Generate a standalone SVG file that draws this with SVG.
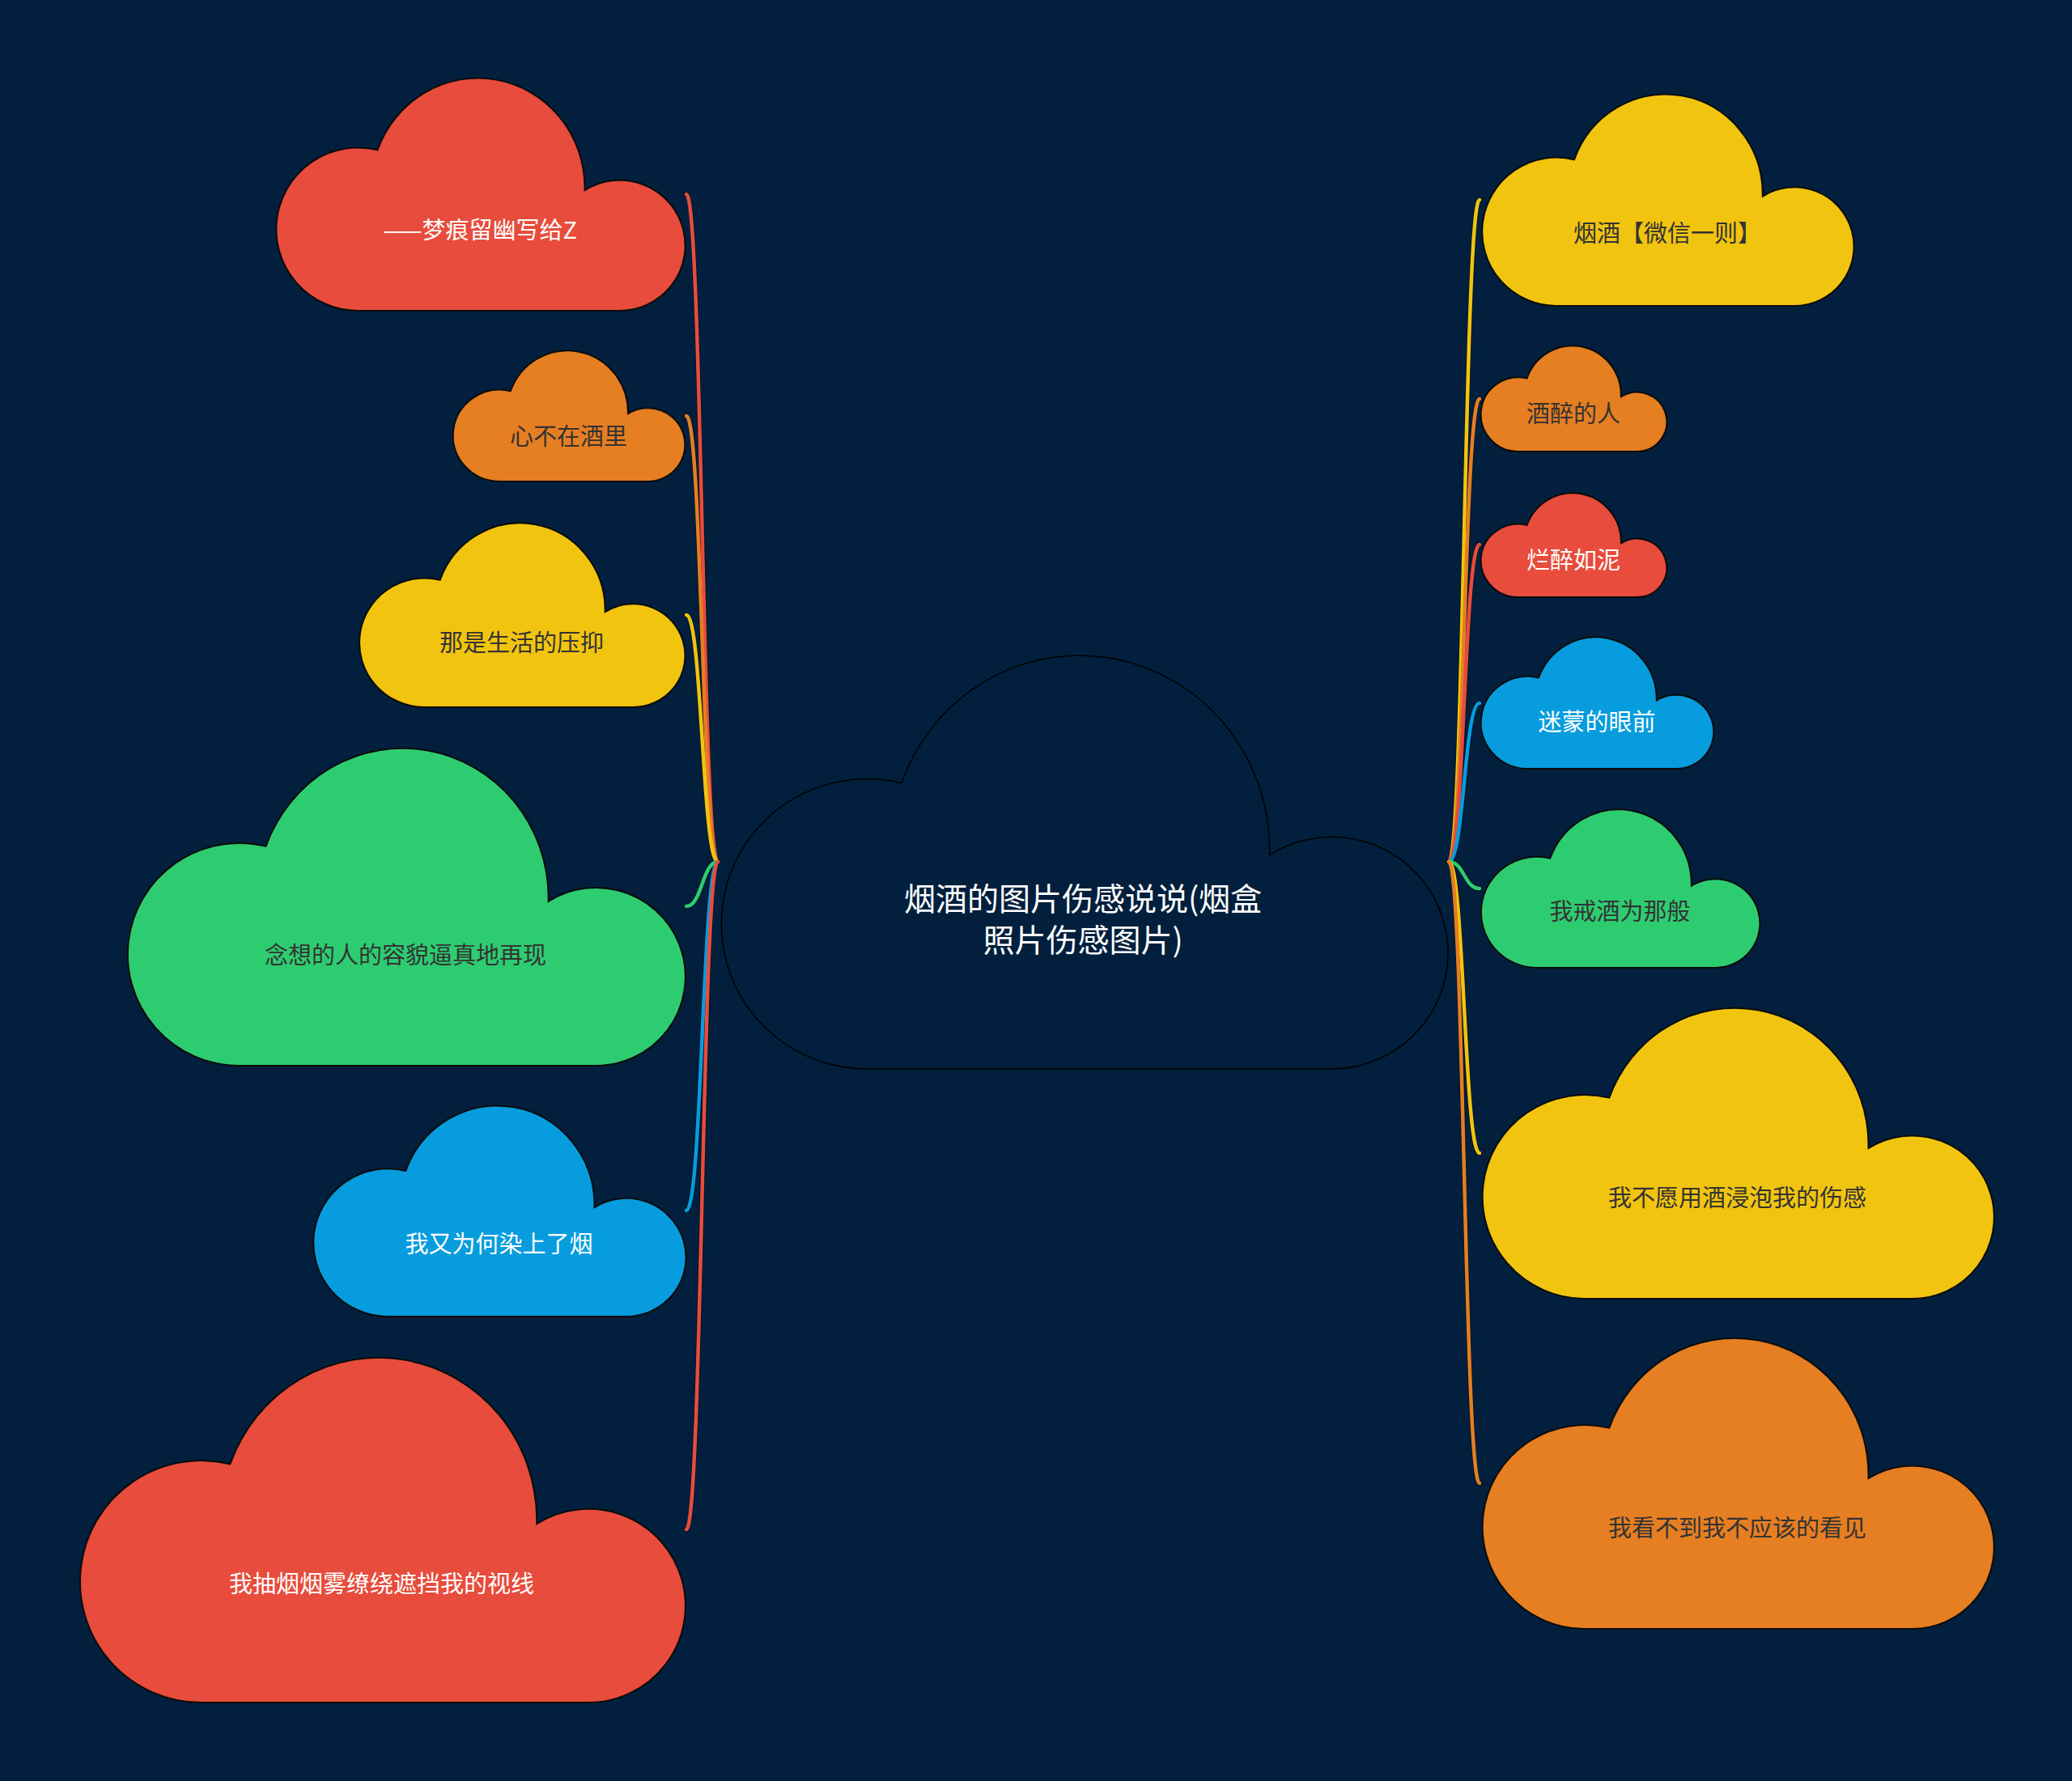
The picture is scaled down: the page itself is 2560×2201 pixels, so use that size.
<svg xmlns="http://www.w3.org/2000/svg" xmlns:xlink="http://www.w3.org/1999/xlink" width="2560" height="2201" viewBox="0 0 2560 2201">
<style>
.bg{fill:#02203d}
.cl{stroke:#0b0b0b;stroke-width:2}
.red{fill:#e74c3c}
.orange{fill:#e67e22}
.yellow{fill:#f1c40f}
.green{fill:#2ecc71}
.blue{fill:#079cde}
.root{fill:#02203d;stroke:#000;stroke-width:1.5}
text{font-family:"Noto Sans CJK SC","Noto Sans",sans-serif;font-size:29px;text-anchor:middle;dominant-baseline:central}
.dk{fill:#333333}
.wt{fill:#ffffff}
.rt{font-size:39px;fill:#ffffff}
.sh{fill:none;stroke:#000;stroke-opacity:0.35;stroke-width:6.5;stroke-linecap:round}
.ln{fill:none;stroke-width:4.5;stroke-linecap:round}
</style>
<defs>
<path id="cloud" vector-effect="non-scaling-stroke" d="M20,100 A20,35 0 1 1 25,31 A26.1,47 0 0 1 75.6,47 L75.6,48.3 A16,28 0 1 1 84,100 Z"/>
</defs>
<rect class="bg" x="0" y="0" width="2560" height="2201"/>
<g id="connectors">
<g id="shadows">
<path class="sh" d="M887,1065 C867.5,1065 867.5,240 848,240"/>
<path class="sh" d="M887,1065 C867.5,1065 867.5,514 848,514"/>
<path class="sh" d="M887,1065 C867.5,1065 867.5,760 848,760"/>
<path class="sh" d="M887,1065 C867.5,1065 867.5,1120 848,1120"/>
<path class="sh" d="M887,1065 C867.5,1065 867.5,1496 848,1496"/>
<path class="sh" d="M887,1065 C867.5,1065 867.5,1890 848,1890"/>
<path class="sh" d="M1790,1065 C1809,1065 1809,247 1828,247"/>
<path class="sh" d="M1790,1065 C1809,1065 1809,493 1828,493"/>
<path class="sh" d="M1790,1065 C1809,1065 1809,673 1828,673"/>
<path class="sh" d="M1790,1065 C1809,1065 1809,869 1828,869"/>
<path class="sh" d="M1790,1065 C1809,1065 1809,1098 1828,1098"/>
<path class="sh" d="M1790,1065 C1809,1065 1809,1425 1828,1425"/>
<path class="sh" d="M1790,1065 C1809,1065 1809,1833 1828,1833"/>
</g>
<path class="ln" stroke="#e74c3c" d="M887,1065 C867.5,1065 867.5,240 848,240"/>
<path class="ln" stroke="#e67e22" d="M887,1065 C867.5,1065 867.5,514 848,514"/>
<path class="ln" stroke="#f1c40f" d="M887,1065 C867.5,1065 867.5,760 848,760"/>
<path class="ln" stroke="#2ecc71" d="M887,1065 C867.5,1065 867.5,1120 848,1120"/>
<path class="ln" stroke="#079cde" d="M887,1065 C867.5,1065 867.5,1496 848,1496"/>
<path class="ln" stroke="#e74c3c" d="M887,1065 C867.5,1065 867.5,1890 848,1890"/>
<path class="ln" stroke="#f1c40f" d="M1790,1065 C1809,1065 1809,247 1828,247"/>
<path class="ln" stroke="#e67e22" d="M1790,1065 C1809,1065 1809,493 1828,493"/>
<path class="ln" stroke="#e74c3c" d="M1790,1065 C1809,1065 1809,673 1828,673"/>
<path class="ln" stroke="#079cde" d="M1790,1065 C1809,1065 1809,869 1828,869"/>
<path class="ln" stroke="#2ecc71" d="M1790,1065 C1809,1065 1809,1098 1828,1098"/>
<path class="ln" stroke="#f1c40f" d="M1790,1065 C1809,1065 1809,1425 1828,1425"/>
<path class="ln" stroke="#e67e22" d="M1790,1065 C1809,1065 1809,1833 1828,1833"/>
</g>
<g id="root">
<use xlink:href="#cloud" href="#cloud" class="root" transform="translate(889,809) scale(8.99,5.12)"/>
<text class="rt" x="1338" y="1108">烟酒的图片伤感说说(烟盒</text>
<text class="rt" x="1338" y="1159">照片伤感图片)</text>
</g>
<g id="n-l1">
<use href="#cloud" class="cl red" transform="translate(340,96) scale(5.06,2.88)"/>
<text class="wt" x="593" y="282">——梦痕留幽写给Z</text>
</g>
<g id="n-l2">
<use href="#cloud" class="cl orange" transform="translate(559,433) scale(2.87,1.62)"/>
<text class="dk" x="702.5" y="537">心不在酒里</text>
</g>
<g id="n-l3">
<use href="#cloud" class="cl yellow" transform="translate(443,646) scale(4.03,2.28)"/>
<text class="dk" x="644.5" y="792">那是生活的压抑</text>
</g>
<g id="n-l4">
<use href="#cloud" class="cl green" transform="translate(156,924) scale(6.90,3.93)"/>
<text class="dk" x="501" y="1178">念想的人的容貌逼真地再现</text>
</g>
<g id="n-l5">
<use href="#cloud" class="cl blue" transform="translate(386,1366) scale(4.61,2.61)"/>
<text class="wt" x="616.5" y="1535">我又为何染上了烟</text>
</g>
<g id="n-l6">
<use href="#cloud" class="cl red" transform="translate(97,1677) scale(7.49,4.27)"/>
<text class="wt" x="471.5" y="1955">我抽烟烟雾缭绕遮挡我的视线</text>
</g>
<g id="n-r1">
<use href="#cloud" class="cl yellow" transform="translate(1830,116) scale(4.60,2.62)"/>
<text class="dk" x="2060" y="286">烟酒【微信一则】</text>
</g>
<g id="n-r2">
<use href="#cloud" class="cl orange" transform="translate(1829,427) scale(2.30,1.31)"/>
<text class="dk" x="1944" y="509">酒醉的人</text>
</g>
<g id="n-r3">
<use href="#cloud" class="cl red" transform="translate(1829,609) scale(2.30,1.29)"/>
<text class="wt" x="1944" y="690">烂醉如泥</text>
</g>
<g id="n-r4">
<use href="#cloud" class="cl blue" transform="translate(1829,787) scale(2.88,1.63)"/>
<text class="wt" x="1973" y="890">迷蒙的眼前</text>
</g>
<g id="n-r5">
<use href="#cloud" class="cl green" transform="translate(1829,1000) scale(3.45,1.96)"/>
<text class="dk" x="2001.5" y="1124">我戒酒为那般</text>
</g>
<g id="n-r6">
<use href="#cloud" class="cl yellow" transform="translate(1830,1245) scale(6.33,3.60)"/>
<text class="dk" x="2146.5" y="1478">我不愿用酒浸泡我的伤感</text>
</g>
<g id="n-r7">
<use href="#cloud" class="cl orange" transform="translate(1830,1653) scale(6.33,3.60)"/>
<text class="dk" x="2146.5" y="1886">我看不到我不应该的看见</text>
</g>
</svg>
